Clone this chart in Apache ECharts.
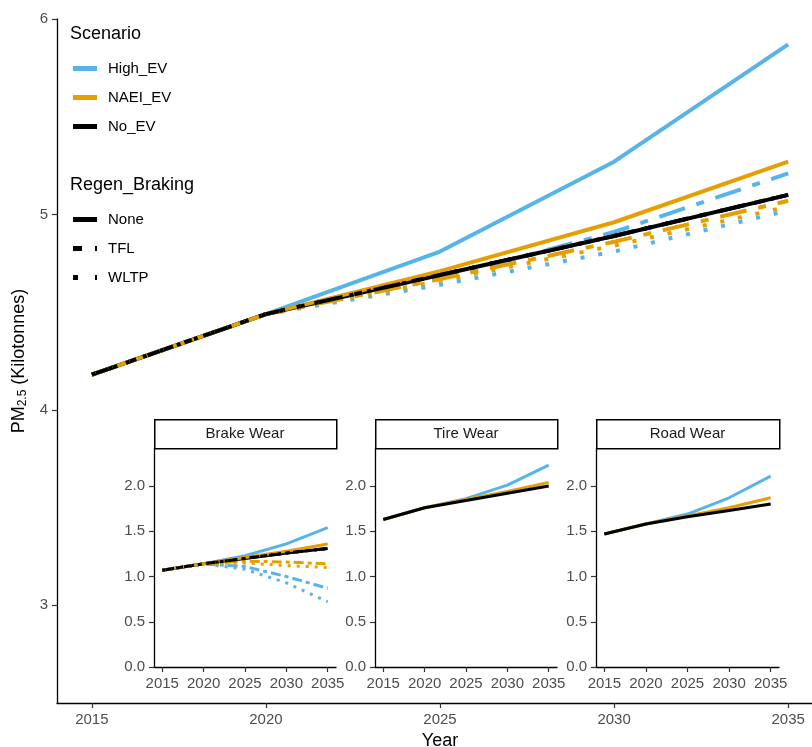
<!DOCTYPE html>
<html><head><meta charset="utf-8">
<script src="https://cdn.jsdelivr.net/npm/echarts@6/dist/echarts.min.js"></script>
<style>html,body{margin:0;padding:0;background:#fff}#c{width:812px;height:747px}</style>
</head><body><div id="c"></div>
<script>
// ---------- data ----------
const years = [2015, 2020, 2025, 2030, 2035];
const scenarios = ['High_EV', 'NAEI_EV', 'No_EV'];
const regens = ['None', 'TFL', 'WLTP'];
const yTicksMain = [3, 4, 5, 6];
const yTicksInset = [0, 0.5, 1, 1.5, 2];
const panelTitles = ['Brake Wear', 'Tire Wear', 'Road Wear'];

// main panel: total PM2.5 (kilotonnes)
const mainHighNone = [4.18, 4.49, 4.81, 5.27, 5.87];
const mainHighTFL  = [4.18, 4.49, 4.67, 4.91, 5.21];
const mainHighWLTP = [4.18, 4.49, 4.64, 4.81, 5.02];
const mainNaeiNone = [4.18, 4.49, 4.71, 4.96, 5.27];
const mainNaeiTFL  = [4.18, 4.49, 4.67, 4.86, 5.07];
const mainNaeiWLTP = [4.18, 4.49, 4.66, 4.84, 5.04];
const mainNoNone   = [4.18, 4.49, 4.69, 4.89, 5.10];
const mainNoTFL    = [4.18, 4.49, 4.69, 4.89, 5.10];
const mainNoWLTP   = [4.18, 4.49, 4.69, 4.89, 5.10];

// brake wear
const brakeHighNone = [1.07, 1.14, 1.23, 1.36, 1.54];
const brakeHighTFL  = [1.07, 1.14, 1.11, 1.00, 0.87];
const brakeHighWLTP = [1.07, 1.14, 1.08, 0.93, 0.72];
const brakeNaeiNone = [1.07, 1.14, 1.21, 1.28, 1.36];
const brakeNaeiTFL  = [1.07, 1.14, 1.17, 1.16, 1.14];
const brakeNaeiWLTP = [1.07, 1.14, 1.15, 1.12, 1.10];
const brakeNoNone   = [1.07, 1.14, 1.20, 1.26, 1.31];
const brakeNoTFL    = [1.07, 1.14, 1.20, 1.26, 1.31];
const brakeNoWLTP   = [1.07, 1.14, 1.20, 1.26, 1.31];

// tire wear
const tireHigh = [1.63, 1.76, 1.86, 2.01, 2.23];
const tireNaei = [1.63, 1.76, 1.85, 1.94, 2.04];
const tireNo   = [1.63, 1.76, 1.84, 1.92, 2.00];

// road wear
const roadHigh = [1.47, 1.58, 1.69, 1.87, 2.11];
const roadNaei = [1.47, 1.58, 1.67, 1.76, 1.87];
const roadNo   = [1.47, 1.58, 1.66, 1.73, 1.80];

// ---------- styling ----------
const FONT = '"Liberation Sans", Arial, Helvetica, sans-serif';
const colors = { High_EV: '#56B4E9', NAEI_EV: '#E69F00', No_EV: '#000000' };
const dashMain = { None: 'solid', TFL: [27, 12, 8, 12], WLTP: [4, 14] };
const dashInset = { None: 'solid', TFL: [10, 4, 4, 4], WLTP: [3, 6] };
const legendIcons = {
  solid: 'path://M0,0H24V5H0Z',
  None: 'path://M0,0H24V5H0Z',
  TFL: 'path://M0,0H9V5H0Z M22,0H24V5H22Z',
  WLTP: 'path://M0,0H5V5H0Z M22,0H24V5H22Z'
};
const grey30 = '#4D4D4D';

const insetGrids = [
  { left: 154, top: 448, width: 182, height: 219 },
  { left: 375, top: 448, width: 182, height: 219 },
  { left: 596, top: 448, width: 183, height: 219 }
];

function pts(vals) { return years.map((y, i) => [y, vals[i]]); }
function line(name, vals, color, dash, width, idx) {
  return {
    type: 'line', name: name, data: pts(vals), xAxisIndex: idx, yAxisIndex: idx,
    symbol: 'none', silent: true, z: 2 + idx,
    lineStyle: { color: color, width: width, type: dash, cap: 'butt', join: 'round' }
  };
}

const mainSets = {
  None: [mainHighNone, mainNaeiNone, mainNoNone],
  TFL: [mainHighTFL, mainNaeiTFL, mainNoTFL],
  WLTP: [mainHighWLTP, mainNaeiWLTP, mainNoWLTP]
};
const brakeSets = {
  None: [brakeHighNone, brakeNaeiNone, brakeNoNone],
  TFL: [brakeHighTFL, brakeNaeiTFL, brakeNoTFL],
  WLTP: [brakeHighWLTP, brakeNaeiWLTP, brakeNoWLTP]
};
// drawing order: solid lines (High, No, NAEI), then dashed and dotted (High, NAEI, No)
const orderFor = { None: [0, 2, 1], TFL: [0, 1, 2], WLTP: [0, 1, 2] };

const series = [];
regens.forEach(r => orderFor[r].forEach(k => {
  const s = scenarios[k];
  series.push(line('main ' + s + ' ' + r, mainSets[r][k], colors[s], dashMain[r], 4, 0));
}));
regens.forEach(r => orderFor[r].forEach(k => {
  const s = scenarios[k];
  series.push(line('brake ' + s + ' ' + r, brakeSets[r][k], colors[s], dashInset[r], 3, 1));
}));
[tireHigh, tireNaei, tireNo].forEach((v, k) => series.push(line('tire ' + scenarios[k], v, colors[scenarios[k]], 'solid', 3, 2)));
[roadHigh, roadNaei, roadNo].forEach((v, k) => series.push(line('road ' + scenarios[k], v, colors[scenarios[k]], 'solid', 3, 3)));

// legend-only series (no data)
scenarios.forEach(s => series.push({ type: 'line', name: s, data: [], symbol: 'none', xAxisIndex: 0, yAxisIndex: 0,
  lineStyle: { color: colors[s], width: 5 }, itemStyle: { color: colors[s] } }));
regens.forEach(r => series.push({ type: 'line', name: r, data: [], symbol: 'none', xAxisIndex: 0, yAxisIndex: 0,
  lineStyle: { color: '#000', width: 5 }, itemStyle: { color: '#000' } }));

const axisLineStyle = { show: true, lineStyle: { color: '#000', width: 1.3 } };
const tickStyle = { show: true, length: 5, lineStyle: { color: '#333', width: 1.2 } };
const yearFmt = v => String(Math.round(v));

const xAxes = [{
  type: 'value', gridIndex: 0, min: 2014, max: 2036,
  axisLine: axisLineStyle, splitLine: { show: false },
  axisTick: Object.assign({ customValues: years }, tickStyle),
  axisLabel: { customValues: years, formatter: yearFmt, color: grey30, fontSize: 15, fontFamily: FONT, margin: 9 },
  name: 'Year', nameLocation: 'middle', nameGap: 28,
  nameTextStyle: { color: '#000', fontSize: 18, fontFamily: FONT }
}];
const yAxes = [{
  type: 'value', gridIndex: 0, min: 2.5, max: 6,
  axisLine: axisLineStyle, splitLine: { show: false },
  axisTick: Object.assign({ customValues: yTicksMain }, tickStyle),
  axisLabel: { customValues: yTicksMain, color: grey30, fontSize: 15, fontFamily: FONT, margin: 9 },
  name: 'PM{sub|2.5} (Kilotonnes)', nameLocation: 'middle', nameGap: 26, nameRotate: 90,
  nameTextStyle: { color: '#000', fontSize: 18, fontFamily: FONT,
    rich: { sub: { fontSize: 12, fontFamily: FONT, color: '#000', padding: [7, 0, 0, 0], verticalAlign: 'bottom' } } }
}];
insetGrids.forEach((g, i) => {
  xAxes.push({
    type: 'value', gridIndex: i + 1, min: 2014, max: 2036,
    axisLine: axisLineStyle, splitLine: { show: false },
    axisTick: Object.assign({ customValues: years }, tickStyle),
    axisLabel: { customValues: years, formatter: yearFmt, color: grey30, fontSize: 15, fontFamily: FONT, margin: 9 }
  });
  yAxes.push({
    type: 'value', gridIndex: i + 1, min: 0, max: 2.42,
    axisLine: axisLineStyle, splitLine: { show: false },
    axisTick: Object.assign({ customValues: yTicksInset }, tickStyle),
    axisLabel: { customValues: yTicksInset, color: grey30, fontSize: 15, fontFamily: FONT, margin: 9,
      formatter: v => v.toFixed(1) }
  });
});

const graphics = [];
insetGrids.forEach((g, i) => {
  graphics.push({ type: 'rect', left: g.left, top: 419, z: 100,
    shape: { width: g.width, height: 29 },
    style: { fill: '#fff', stroke: '#000', lineWidth: 1.5 } });
  graphics.push({ type: 'text', x: g.left + g.width / 2, y: 434, z: 101,
    style: { text: panelTitles[i], fill: '#1A1A1A', fontSize: 15, fontFamily: FONT, align: 'center', verticalAlign: 'middle' } });
});

const legendBase = {
  orient: 'vertical', left: 73, itemWidth: 24, itemHeight: 5, itemGap: 14, padding: 0,
  selectedMode: false,
  itemStyle: { borderWidth: 0 },
  textStyle: { color: '#000', fontSize: 15, fontFamily: FONT, padding: [0, 0, 0, 6] }
};

const option = {
  animation: false,
  backgroundColor: '#fff',
  title: [
    { text: 'Scenario', left: 70, top: 25, padding: 0, textStyle: { fontSize: 18, fontWeight: 'normal', color: '#000', fontFamily: FONT } },
    { text: 'Regen_Braking', left: 70, top: 176, padding: 0, textStyle: { fontSize: 18, fontWeight: 'normal', color: '#000', fontFamily: FONT } }
  ],
  legend: [
    Object.assign({}, legendBase, { top: 61, data: scenarios.map(s => ({ name: s, icon: legendIcons.solid })) }),
    Object.assign({}, legendBase, { top: 212, data: regens.map(r => ({ name: r, icon: legendIcons[r] })) })
  ],
  grid: [
    { left: 57, top: 19, right: -11, bottom: 44, outerBoundsMode: 'none' },
    ...insetGrids.map(g => Object.assign({ outerBoundsMode: 'none' }, g))
  ],
  xAxis: xAxes,
  yAxis: yAxes,
  series: series,
  graphic: graphics
};
const chart = echarts.init(document.getElementById('c'));
chart.setOption(option);
</script>
</body></html>
